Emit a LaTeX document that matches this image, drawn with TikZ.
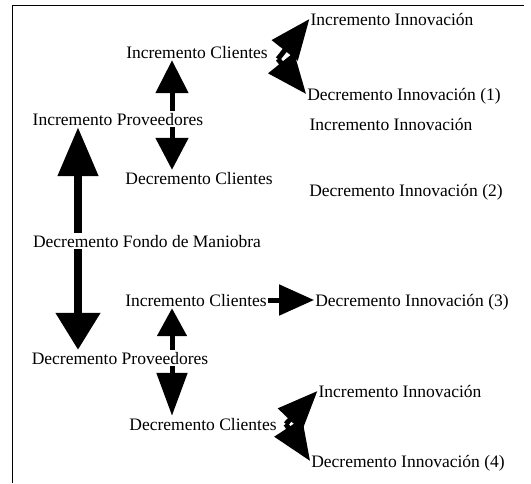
\documentclass[tikz,border=0pt]{standalone}
\usepackage{fontspec}
\setmainfont{Liberation Serif}
\usetikzlibrary{arrows.meta}
\tikzset{
  lbl/.style={inner sep=1pt, text height=13pt, text depth=1pt, font=\fontsize{17.5}{20}\selectfont},
  arr/.style 2 args={-{Triangle[length=#1,width=#2]}, line width=5pt},
  bigarr/.style 2 args={-{Triangle[length=#1,width=#2]}, line width=8pt}
}
\begin{document}
\begin{tikzpicture}[x=1pt,y=-1pt]
      \useasboundingbox (0,0) rectangle (531,483);
      \draw[line width=0.8pt] (524,5) -- (12,5) -- (12,483);
      \draw[every node/.style=lbl]
        (147,241) node (fm){Decremento Fondo de Maniobra}
        (118,119) node (ip){Incremento Proveedores}
        (120,358) node (dp){Decremento Proveedores}
        (197,52) node (ic1){Incremento Clientes}
        (199,178) node (dc1){Decremento Clientes}
        (196,300) node (ic2){Incremento Clientes}
        (203,424) node (dc2){Decremento Clientes}
        (392,19) node (ii1){Incremento Innovación}
        (404,94) node (di1){Decremento Innovación (1)}
        (391,124) node (ii2){Incremento Innovación}
        (406,190) node (di2){Decremento Innovación (2)}
        (412,300) node (di3){Decremento Innovación (3)}
        (400,391) node (ii4){Incremento Innovación}
        (408,461) node (di4){Decremento Innovación (4)};
      \begin{scope}
        % desde el fondo de maniobra
        \draw[bigarr={49pt}{39pt}] ([xshift=-69pt]fm.north) -- ([xshift=-69pt]fm.north |- ip.south);
        \draw[bigarr={37pt}{43pt}] ([xshift=-69pt]fm.south) -- ([xshift=-69pt]fm.south |- dp.north);
        % proveedores a clientes
        \draw[arr={33pt}{32pt}] ([xshift=54pt]ip.north) -- ([xshift=54pt]ip.north |- ic1.south);
        \draw[arr={32pt}{32pt}] ([xshift=54pt]ip.south) -- ([xshift=54pt]ip.south |- dc1.north);
        \draw[arr={28pt}{29pt}] ([xshift=52pt]dp.north) -- ([xshift=52pt]dp.north |- ic2.south);
        \draw[arr={43pt}{30pt}] ([xshift=52pt]dp.south) -- ([xshift=52pt]dp.south |- dc2.north);
        % clientes a innovacion
        \draw[arr={40pt}{32pt}] ([shift={(9,7)}]ic1.east) -- (ii1.west);
        \draw[arr={40pt}{32pt}] ([shift={(9,7)}]ic1.east) -- (di1.west);
        \draw[arr={35pt}{30pt}] (ic2.east) -- (di3.west);
        \draw[arr={40pt}{32pt}] ([xshift=8pt]dc2.east) -- (ii4.west);
        \draw[arr={40pt}{32pt}] ([xshift=8pt]dc2.east) -- (di4.west);
      \end{scope}
\end{tikzpicture}
\end{document}
